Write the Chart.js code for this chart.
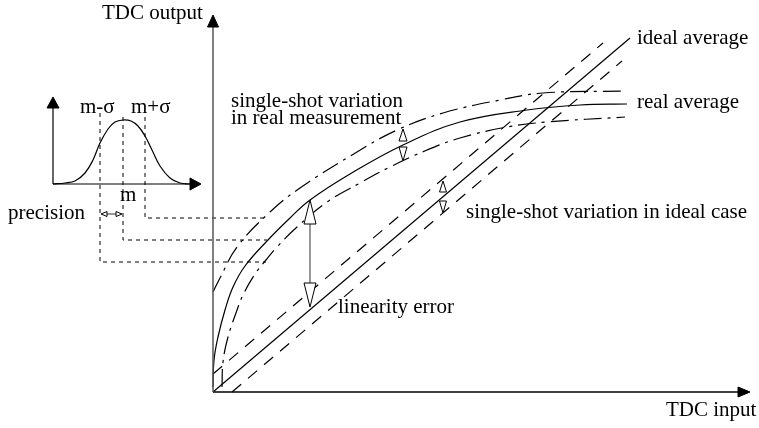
<!DOCTYPE html>
<html>
<head>
<meta charset="utf-8">
<script src="https://cdn.jsdelivr.net/npm/chart.js@4"></script>
<style>
  body { margin: 0; background: #fff; }
  canvas { display: block; }
</style>
</head>
<body>
<canvas id="tdcChart" width="759" height="428"></canvas>
<script>
// TDC transfer characteristic: input on x, output on y (origin at the axes corner)
const idealX = [0, 417];
const idealY = [0, 354];
const idealUpperX = [0, 390];
const idealUpperY = [18, 349];
const idealLowerX = [19, 409];
const idealLowerY = [0, 331];

const realX = [0, 1, 5, 12, 20, 32, 54, 77, 97, 137, 190, 247, 314, 367, 414];
const realY = [5, 32, 55, 82, 105, 126, 151, 174, 192, 218, 247, 270, 282, 287, 288];
const realUpperX = [0, 7, 24, 57, 87, 144, 184, 230, 287, 330, 414];
const realUpperY = [100, 114, 145, 180, 204, 240, 262, 279, 292, 299, 301];
const realLowerX = [9, 10, 15, 23, 30, 42, 53, 64, 84, 114, 147, 177, 214, 247, 294, 334, 412];
const realLowerY = [5, 30, 55, 79, 97, 118, 132, 145, 165, 190, 209, 225, 242, 254, 265, 270, 275];

// inset: distribution of single-shot results
const gaussX = [-160, -148, -138, -128, -120, -113, -105, -98, -90, -82, -75, -68, -61, -53, -43, -33, -23];
const gaussY = [208, 209, 211, 219, 232, 249, 263, 270, 272, 271, 266, 256, 242, 226, 214, 209, 208];
const sigmaX = [-113, -90, -68];        // m-σ, m, m+σ
const sigmaTop = [279, 275, 275];
const sigmaLevel = [130, 152, 174];     // projected output levels
const sigmaEnd = [53, 54, 50];

const zip = (xs, ys) => xs.map((x, i) => ({ x: x, y: ys[i] }));

function line(xs, ys, opts) {
    return Object.assign({
        data: zip(xs, ys),
        showLine: true,
        pointRadius: 0,
        borderColor: '#000',
        borderWidth: 1.2,
        tension: 0,
        fill: false
    }, opts || {});
}

const smooth = { tension: 0.4 };
const dashDot = { tension: 0.4, borderDash: [18, 6, 3, 6] };

const datasets = [
    // main axes
    line([0, 0], [0, 366], { borderColor: '#555', borderWidth: 1.5 }),
    line([0, 526], [0, 0], { borderWidth: 1.5 }),
    // ideal characteristic
    line(idealX, idealY),
    line(idealUpperX, idealUpperY, { borderDash: [12, 9] }),
    line(idealLowerX, idealLowerY, { borderDash: [12, 9] }),
    // real characteristic
    line(realX, realY, smooth),
    line(realUpperX, realUpperY, dashDot),
    line(realLowerX, realLowerY, dashDot),
    // linearity error marker
    line([97, 97], [168, 109], { borderColor: '#555' }),
    // inset axes and curve
    line([-160, -160], [208, 284]),
    line([-160, -22], [208, 208]),
    line(gaussX, gaussY, smooth),
    line([-110, -93], [178, 178], { borderWidth: 0.8 })
];

// projection lines from the inset onto the output axis
sigmaX.forEach((sx, i) => {
    datasets.push(line([sx, sx, sigmaEnd[i]], [sigmaTop[i], sigmaLevel[i], sigmaLevel[i]],
        { borderDash: [4, 4], borderWidth: 1 }));
});

// arrowheads: tip position, direction, length and half width
const heads = [
    { x: 0, y: 377, dir: 'up', len: 12, hw: 5.5, filled: true },
    { x: 537, y: 0, dir: 'right', len: 12, hw: 5, filled: true },
    { x: -160, y: 295, dir: 'up', len: 11, hw: 6, filled: true },
    { x: -12, y: 208, dir: 'right', len: 11, hw: 6, filled: true },
    { x: 97, y: 192, dir: 'up', len: 24, hw: 6 },
    { x: 97, y: 85, dir: 'down', len: 24, hw: 6 },
    { x: 190, y: 263, dir: 'up', len: 12, hw: 4 },
    { x: 190, y: 231, dir: 'down', len: 14, hw: 4 },
    { x: 230, y: 211, dir: 'up', len: 11, hw: 3.5 },
    { x: 230, y: 179, dir: 'down', len: 12, hw: 3.5 },
    { x: -112, y: 178, dir: 'left', len: 6, hw: 2.5 },
    { x: -91, y: 178, dir: 'right', len: 6, hw: 2.5 }
];

const labels = [
    { text: 'TDC output', x: -111, y: 379 },
    { text: 'TDC input', x: 453, y: -18 },
    { text: 'ideal average', x: 424, y: 354 },
    { text: 'real average', x: 424, y: 290 },
    { text: 'single-shot variation', x: 18, y: 291 },
    { text: 'in real measurement', x: 18, y: 274 },
    { text: 'single-shot variation in ideal case', x: 253, y: 180 },
    { text: 'linearity error', x: 125, y: 85 },
    { text: 'precision', x: -205, y: 179 },
    { text: 'm-σ', x: -133, y: 285 },
    { text: 'm+σ', x: -82, y: 285 },
    { text: 'm', x: -93, y: 197 }
];

const sketchPlugin = {
    id: 'sketch',
    afterDatasetsDraw(chart) {
        const ctx = chart.ctx;
        const sx = chart.scales.x, sy = chart.scales.y;
        ctx.save();
        heads.forEach(h => {
            const px = sx.getPixelForValue(h.x);
            const py = sy.getPixelForValue(h.y);
            let pts;
            if (h.dir === 'up') pts = [[px, py], [px - h.hw, py + h.len], [px + h.hw, py + h.len]];
            else if (h.dir === 'down') pts = [[px, py], [px - h.hw, py - h.len], [px + h.hw, py - h.len]];
            else if (h.dir === 'right') pts = [[px, py], [px - h.len, py - h.hw], [px - h.len, py + h.hw]];
            else pts = [[px, py], [px + h.len, py - h.hw], [px + h.len, py + h.hw]];
            ctx.beginPath();
            ctx.moveTo(pts[0][0], pts[0][1]);
            ctx.lineTo(pts[1][0], pts[1][1]);
            ctx.lineTo(pts[2][0], pts[2][1]);
            ctx.closePath();
            ctx.fillStyle = h.filled ? '#000' : '#fff';
            ctx.fill();
            ctx.lineWidth = 1;
            ctx.strokeStyle = '#000';
            ctx.stroke();
        });
        ctx.fillStyle = '#000';
        ctx.font = '21px "Liberation Serif", "Times New Roman", serif';
        ctx.textAlign = 'left';
        ctx.textBaseline = 'middle';
        labels.forEach(l => {
            ctx.fillText(l.text, sx.getPixelForValue(l.x), sy.getPixelForValue(l.y));
        });
        ctx.restore();
    }
};

new Chart(document.getElementById('tdcChart'), {
    type: 'scatter',
    data: { datasets: datasets },
    options: {
        responsive: false,
        animation: false,
        layout: { padding: 0 },
        scales: {
            x: { type: 'linear', min: -213, max: 546, display: false },
            y: { type: 'linear', min: -36, max: 392, display: false }
        },
        plugins: {
            legend: { display: false },
            tooltip: { enabled: false }
        }
    },
    plugins: [sketchPlugin]
});
</script>
</body>
</html>
